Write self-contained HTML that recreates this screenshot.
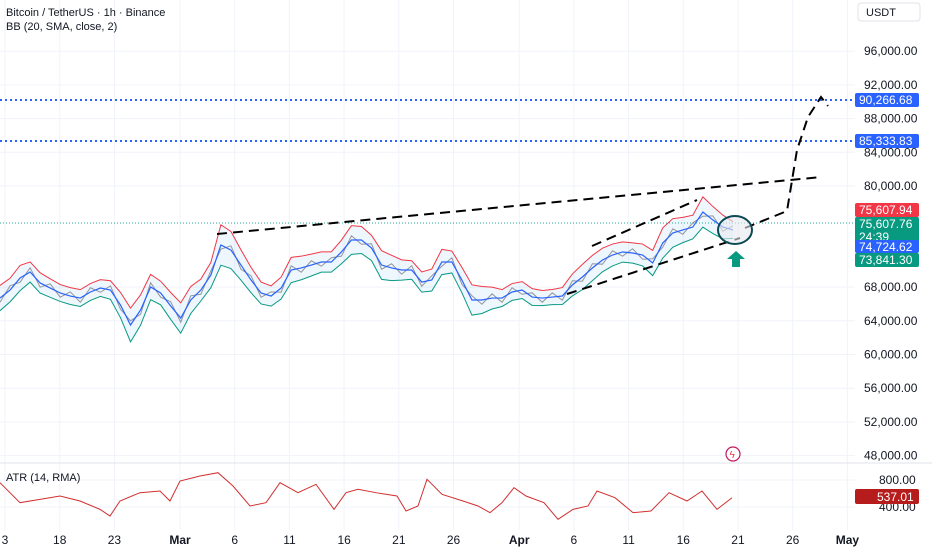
<!DOCTYPE html>
<html><head><meta charset="utf-8"><style>
body{margin:0;background:#fff;font-family:"Liberation Sans",sans-serif}
svg{display:block}
text{font-family:"Liberation Sans",sans-serif}
</style></head><body>
<svg id="c" width="932" height="550"></svg>
<script>
const priceTicks=[96000,92000,88000,84000,80000,68000,64000,60000,56000,52000,48000];
const dateLabels=["3","18","23","Mar","6","11","16","21","26","Apr","6","11","16","21","26","May"];
const dateLabelDays=[0,5,10,16,21,26,31,36,41,47,52,57,62,67,72,77];
const midPrices=[66700,67650,69080,69790,68490,67890,67300,66940,66700,67420,67890,67650,65870,63500,65280,68010,67300,65760,64330,66470,67650,69430,73000,72400,70620,68840,67300,66940,67890,70030,70270,70620,70980,70980,72170,73590,73590,72640,70620,70270,70030,70030,68600,68840,70980,70980,68840,66470,66470,66700,66700,67420,67650,66820,66700,66820,66940,68250,69200,70270,71220,71810,72170,72050,71810,70860,73230,74420,74780,75130,76910,75960,75130,74780];
const bandWidth=[1500,1400,1500,1200,1200,1100,1000,1000,1000,1000,1000,1100,1500,2000,1800,1500,1400,1600,1800,1600,1300,1500,2400,2200,1800,1500,1300,1200,1300,1500,1400,1300,1200,1200,1400,1700,1600,1500,1700,1500,1200,1100,1200,1300,1500,1300,1500,1800,1600,1300,1000,1000,1000,1000,900,900,1000,1300,1500,1500,1400,1300,1200,1200,1300,1500,1800,1700,1500,1400,1800,1600,1400,1000];
const atrValues=[760,464,513,563,489,365,266,489,612,637,489,785,859,908,711,415,464,760,612,736,365,612,662,612,563,341,415,810,588,489,415,316,464,686,563,464,217,365,415,637,538,316,341,612,489,637,365,537];
const atrX=[0,20,40,60,80,100,110,120,140,160,170,180,200,218,233,250,266,280,298,316,334,346,358,376,397,406,418,427,442,463,478,490,502,514,526,544,558,573,588,597,615,633,651,669,687,702,717,732];
const atrTicks=[800,400];

const NS="http://www.w3.org/2000/svg";
const svg=document.getElementById('c');
function el(t,a,p){const e=document.createElementNS(NS,t);for(const k in a)e.setAttribute(k,a[k]);(p||svg).appendChild(e);return e;}
const yP=v=>186-(v-80000)*33.7/4000;
const xD=d=>5+d*10.94;
const xI=i=>i*(733/(midPrices.length-1));
const yA=v=>507-(v-400)*27/400;

const grid=el('g',{});


dateLabelDays.forEach(d=>el('line',{x1:xD(d),x2:xD(d),y1:0,y2:530,stroke:'#f0f3fa'},grid));
priceTicks.forEach(v=>el('line',{x1:0,x2:855,y1:yP(v),y2:yP(v),stroke:'#f0f3fa'},grid));
el('line',{x1:0,x2:932,y1:463,y2:463,stroke:'#e0e3eb'});
el('line',{x1:0,x2:855,y1:yA(800),y2:yA(800),stroke:'#f0f3fa'});
el('line',{x1:0,x2:855,y1:yA(400),y2:yA(400),stroke:'#f0f3fa'});

const lv1=el('line',{x1:0,x2:855,y1:100,y2:100,stroke:'#2962ff','stroke-width':2,'stroke-dasharray':'2 3'});

const lv2=el('line',{x1:0,x2:855,y1:141,y2:141,stroke:'#2962ff','stroke-width':2,'stroke-dasharray':'2 3'});

const cur=el('line',{x1:0,x2:855,y1:223,y2:223,stroke:'#22ab94','stroke-width':1,'stroke-dasharray':'1 2'});


const up=midPrices.map((v,i)=>[xI(i),yP(v+bandWidth[i])]);
const lo=midPrices.map((v,i)=>[xI(i),yP(v-bandWidth[i])]);
const fill=el('path',{d:'M'+up.map(p=>p.join(',')).join('L')+'L'+lo.slice().reverse().map(p=>p.join(',')).join('L')+'Z',fill:'#2196f3','fill-opacity':0.08});

const upl=el('polyline',{points:up.map(p=>p.join(',')).join(' '),fill:'none',stroke:'#f23645','stroke-width':1});

const lol=el('polyline',{points:lo.map(p=>p.join(',')).join(' '),fill:'none',stroke:'#089981','stroke-width':1});

const price=el('polyline',{points:midPrices.map((v,i)=>xI(i)+','+yP(v+(i%2?500:-500))).join(' '),fill:'none',stroke:'#555','stroke-width':1,'stroke-opacity':0.6});

const mid=el('polyline',{points:midPrices.map((v,i)=>xI(i)+','+yP(v)).join(' '),fill:'none',stroke:'#2962ff','stroke-width':1.2});


const dr=el('g',{fill:'none',stroke:'#000','stroke-width':2,'stroke-dasharray':'10 6'});

el('line',{x1:217,y1:234,x2:822,y2:177},dr);
el('line',{x1:592,y1:246,x2:697,y2:200},dr);
el('line',{x1:567,y1:294,x2:740,y2:238},dr);
el('polyline',{points:'745,228 787,211 797,150 808,117 821,97 828,106'},dr);
const circ=el('ellipse',{cx:735,cy:230,rx:17,ry:14,fill:'#e8eaf0','fill-opacity':0.6,stroke:'#0c4a55','stroke-width':2});

const arr=el('path',{d:'M736,251 L745,259 L740,259 L740,267 L732,267 L732,259 L727,259 Z',fill:'#089981'});

const ic=el('circle',{cx:733,cy:454,r:7,fill:'#fff',stroke:'#c2185b','stroke-width':1.2});

el('text',{x:729.5,y:458,'font-size':10,fill:'#e53935'}).textContent='ϟ';

const atr=el('polyline',{points:atrValues.map((v,i)=>atrX[i]+','+yA(v)).join(' '),fill:'none',stroke:'#d32f2f','stroke-width':1});


priceTicks.forEach(v=>{const t=el('text',{x:864,y:yP(v)+4,'font-size':12,fill:'#131722'});t.textContent=v.toLocaleString('en-US',{minimumFractionDigits:2});
});
atrTicks.forEach(v=>{const t=el('text',{x:879,y:yA(v)+4,'font-size':12,fill:'#131722'});t.textContent=v.toFixed(2);
});
dateLabels.forEach((s,i)=>{const bold=(s==='Mar'||s==='Apr'||s==='May');const t=el('text',{x:xD(dateLabelDays[i]),y:544,'font-size':12,fill:'#131722','text-anchor':'middle','font-weight':bold?'bold':'normal'});t.textContent=s;
});

function tag(top,h,bg,txt,name,txt2){const g=el('g',{});
el('rect',{x:855,y:top,width:64,height:h,fill:bg,rx:2},g);
const t=el('text',{x:859,y:top+11,'font-size':12,fill:'#fff'},g);t.textContent=txt;
if(txt2){const t2=el('text',{x:859,y:top+24,'font-size':12,fill:'#fff'},g);t2.textContent=txt2;}}
tag(93,14,'#2962ff','90,266.68','tag-90266');
tag(134,14,'#2962ff','85,333.83','tag-85333');
tag(203,14,'#f23645','75,607.94','tag-bb-upper');
tag(217,27,'#089981','75,607.76','tag-last-price','24:39');
tag(240,13,'#2962ff','74,724.62','tag-bb-basis');
tag(253,14,'#089981','73,841.30','tag-bb-lower');
const ta=el('g',{});
el('rect',{x:855,y:489,width:64,height:15,fill:'#b71c1c',rx:2},ta);
el('text',{x:877,y:501,'font-size':12,fill:'#fff'},ta).textContent='537.01';

const h1=el('text',{x:6,y:16,'font-size':11,fill:'#131722'});h1.textContent='Bitcoin / TetherUS · 1h · Binance';

const h2=el('text',{x:6,y:30,'font-size':11,fill:'#131722'});h2.textContent='BB (20, SMA, close, 2)';

const h3=el('text',{x:6,y:481,'font-size':11,fill:'#131722'});h3.textContent='ATR (14, RMA)';

const ub=el('g',{});
el('rect',{x:858,y:3,width:62,height:18,fill:'#fff',stroke:'#e0e3eb',rx:3},ub);
el('text',{x:866,y:16,'font-size':11,fill:'#131722'},ub).textContent='USDT';
</script>
</body></html>
